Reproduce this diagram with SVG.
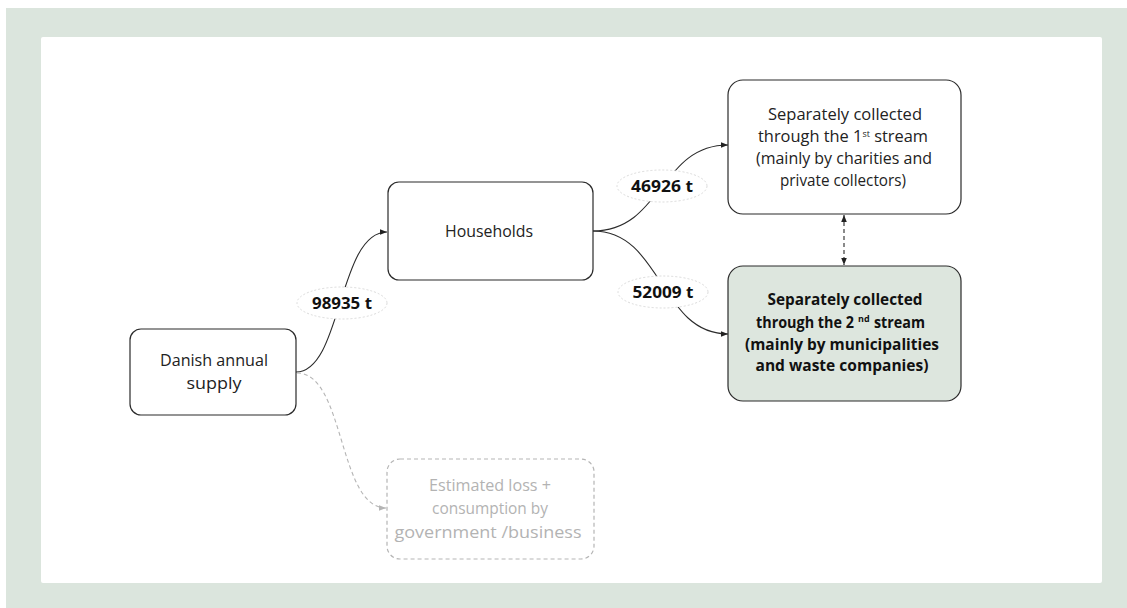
<svg xmlns="http://www.w3.org/2000/svg" width="1127" height="608" viewBox="0 0 1127 608">
  <defs>
    <marker id="arr" viewBox="0 0 10 10" refX="10" refY="5" markerWidth="7" markerHeight="7" markerUnits="userSpaceOnUse" orient="auto-start-reverse">
      <path d="M0,1 L10,5 L0,9 z" fill="#222"/>
    </marker>
    <marker id="arrGray" viewBox="0 0 10 10" refX="10" refY="5" markerWidth="7" markerHeight="7" markerUnits="userSpaceOnUse" orient="auto">
      <path d="M0,1 L10,5 L0,9 z" fill="#b5b5b5"/>
    </marker>
    <style>
      .box { fill: #ffffff; stroke: #2b2b2b; stroke-width: 1.2; }
      .boxHi { fill: #dde6de; stroke: #2b2b2b; stroke-width: 1.2; }
      .boxGhost { fill: #ffffff; stroke: #b5b5b5; stroke-width: 1.2; stroke-dasharray: 4 3; }
      .txt { font-family: "Open Sans", "Liberation Sans", sans-serif; font-size: 16.5px; fill: #222; text-anchor: middle; }
      .bold { font-weight: bold; font-size: 15.5px; fill: #111; }
      .ghost { fill: #b3b3b3; }
      .start { text-anchor: start; }
      .end { text-anchor: end; }
      .sup { font-size: 9px; baseline-shift: 5px; }
      .supTxt { font-size: 9px; }
      .edge { fill: none; stroke: #2b2b2b; stroke-width: 1.1; }
      .edgeGhost { fill: none; stroke: #b5b5b5; stroke-width: 1.1; stroke-dasharray: 4 3; }
      .lbl { fill: #ffffff; stroke: #d0d0d0; stroke-width: 0.8; stroke-dasharray: 2 2; }
      .lblTxt { font-family: "Open Sans", "Liberation Sans", sans-serif; font-size: 16.5px; font-weight: bold; fill: #111; text-anchor: middle; }
    </style>
  </defs>

  <!-- frame -->
  <rect x="6" y="8" width="1121" height="600" fill="#dbe5dd"/>
  <rect x="41" y="37" width="1061" height="546" rx="2" fill="#ffffff"/>

  <!-- connectors -->
  <g id="connectors">
    <path class="edge" d="M296,372 C342,372 338,232 387,232" marker-end="url(#arr)"/>
    <path class="edge" d="M593,231 C662,231 660,145 728,145" marker-end="url(#arr)"/>
    <path class="edge" d="M593,231 C662,231 660,334 728,334" marker-end="url(#arr)"/>
    <path class="edge" d="M844,215 L844,265" stroke-dasharray="4 3" marker-start="url(#arr)" marker-end="url(#arr)"/>
    <path class="edgeGhost" d="M297,373 C345,373 338,508 386,508" marker-end="url(#arrGray)"/>

    <g id="label-98935">
      <ellipse class="lbl" cx="342" cy="303" rx="45" ry="16"/>
      <text class="lblTxt" x="342" y="309" textLength="60" lengthAdjust="spacingAndGlyphs">98935 t</text>
    </g>
    <g id="label-46926">
      <ellipse class="lbl" cx="662" cy="186" rx="45" ry="16"/>
      <text class="lblTxt" x="662" y="192" textLength="62" lengthAdjust="spacingAndGlyphs">46926 t</text>
    </g>
    <g id="label-52009">
      <ellipse class="lbl" cx="663" cy="292" rx="45" ry="16"/>
      <text class="lblTxt" x="663" y="298" textLength="61" lengthAdjust="spacingAndGlyphs">52009 t</text>
    </g>
  </g>

  <!-- nodes -->
  <g id="supply">
    <rect class="box" x="130" y="329" width="166" height="86" rx="11"/>
    <text class="txt" x="214" y="366" textLength="108" lengthAdjust="spacingAndGlyphs">Danish annual</text>
    <text class="txt" x="214" y="389" textLength="55" lengthAdjust="spacingAndGlyphs">supply</text>
  </g>

  <g id="households">
    <rect class="box" x="388" y="182" width="205" height="98" rx="11"/>
    <text class="txt" x="489" y="237" textLength="88" lengthAdjust="spacingAndGlyphs">Households</text>
  </g>

  <g id="stream1">
    <rect class="box" x="728" y="80" width="233" height="134" rx="15"/>
    <text class="txt" x="845" y="120" textLength="154" lengthAdjust="spacingAndGlyphs">Separately collected</text>
    <text class="txt" x="843" y="142" textLength="170" lengthAdjust="spacingAndGlyphs">through the 1<tspan class="sup">st</tspan> stream</text>
    <text class="txt" x="844" y="164" textLength="176" lengthAdjust="spacingAndGlyphs">(mainly by charities and</text>
    <text class="txt" x="843" y="186" textLength="126" lengthAdjust="spacingAndGlyphs">private collectors)</text>
  </g>

  <g id="stream2">
    <rect class="boxHi" x="728" y="266" width="233" height="135" rx="15"/>
    <text class="txt bold" x="845" y="305" textLength="155" lengthAdjust="spacingAndGlyphs">Separately collected</text>
    <text class="txt bold end" x="854" y="328" textLength="98" lengthAdjust="spacingAndGlyphs">through the 2</text>
    <text class="txt bold start supTxt" x="858" y="322">nd</text>
    <text class="txt bold start" x="874" y="328" textLength="51" lengthAdjust="spacingAndGlyphs">stream</text>
    <text class="txt bold" x="842" y="350" textLength="194" lengthAdjust="spacingAndGlyphs">(mainly by municipalities</text>
    <text class="txt bold" x="842" y="371" textLength="173" lengthAdjust="spacingAndGlyphs">and waste companies)</text>
  </g>

  <g id="loss">
    <rect class="boxGhost" x="387" y="459" width="207" height="100" rx="13"/>
    <text class="txt ghost" x="490" y="491" textLength="122" lengthAdjust="spacingAndGlyphs">Estimated loss +</text>
    <text class="txt ghost" x="490" y="514" textLength="116" lengthAdjust="spacingAndGlyphs">consumption by</text>
    <text class="txt ghost" x="488" y="538" textLength="187" lengthAdjust="spacingAndGlyphs">government /business</text>
  </g>
</svg>
